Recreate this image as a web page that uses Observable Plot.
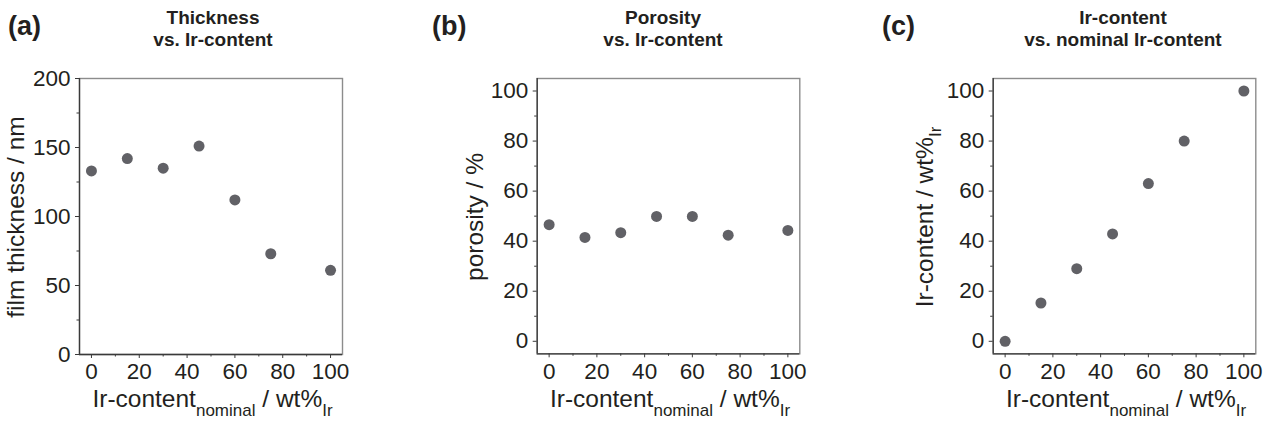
<!DOCTYPE html>
<html>
<head>
<meta charset="utf-8">
<script src="https://cdn.jsdelivr.net/npm/d3@7"></script>
<script src="https://cdn.jsdelivr.net/npm/@observablehq/plot@0.6"></script>
<style>
  html, body { margin: 0; padding: 0; background: #fff; }
  #chart { position: relative; width: 1270px; height: 428px; overflow: hidden; background: #fff; }
  #chart svg { position: absolute; top: 0; }
</style>
</head>
<body>
<div id="chart"></div>
<script>
// ---- data ----
const nominalContent = [0, 15, 30, 45, 60, 75, 100];
const filmThickness = [133, 142, 135, 151, 112, 73, 61];
const porosity = [46.6, 41.5, 43.4, 49.9, 49.9, 42.4, 44.3];
const irContent = [0, 15.3, 29, 42.9, 63, 80, 100];

// ---- tick labels ----
const xTicks = [0, 20, 40, 60, 80, 100];
const xMinorTicks = [10, 30, 50, 70, 90];
const thicknessTicks = [0, 50, 100, 150, 200];
const thicknessMinorTicks = [25, 75, 125, 175];
const percentTicks = [0, 20, 40, 60, 80, 100];
const percentMinorTicks = [10, 30, 50, 70, 90];

// ---- texts ----
const panelLetters = ["(a)", "(b)", "(c)"];
const titlesLine1 = ["Thickness", "Porosity", "Ir-content"];
const titlesLine2 = ["vs. Ir-content", "vs. Ir-content", "vs. nominal Ir-content"];
const yLabels = [
  [{t: "film thickness / nm"}],
  [{t: "porosity / %"}],
  [{t: "Ir-content / wt%"}, {t: "Ir", sub: true}]
];
const xLabel = [{t: "Ir-content"}, {t: "nominal", sub: true}, {t: " / wt%"}, {t: "Ir", sub: true}];

const FONT = "'Liberation Sans', Arial, Helvetica, sans-serif";
const TEXT = "#231f20";
const DOT = "#616166";
const FRAME = "#8c8c8c";
const AXIS = "#3a3a3a";

const panels = [
  {left: 0, width: 423, mL: 79, mR: 81, mT: 78, mB: 74,
   y: filmThickness, yDomain: [0, 200], yTicks: thicknessTicks, yMinor: thicknessMinorTicks,
   letterX: 8, titleX: 213, yLabelX: 24, yLabelY: 217},
  {left: 423, width: 423, mL: 113.7, mR: 46.7, mT: 78, mB: 74.7,
   y: porosity, yDomain: [-5, 105], yTicks: percentTicks, yMinor: percentMinorTicks,
   letterX: 9, titleX: 240, yLabelX: 60, yLabelY: 217},
  {left: 846, width: 424, mL: 146.7, mR: 14.7, mT: 78, mB: 74.7,
   y: irContent, yDomain: [-5, 105], yTicks: percentTicks, yMinor: percentMinorTicks,
   letterX: 36, titleX: 277, yLabelX: 87, yLabelY: 217}
];

function addRich(sel, parts, mainSize, subSize, shift) {
  let shifted = false;
  parts.forEach(p => {
    const ts = sel.append("tspan").text(p.t);
    if (p.sub) {
      ts.attr("font-size", subSize).attr("dy", shifted ? 0 : shift);
      shifted = true;
    } else {
      ts.attr("font-size", mainSize).attr("dy", shifted ? -shift : 0);
      shifted = false;
    }
  });
}

const xDomain = [-5, 105];
const chart = document.getElementById("chart");

panels.forEach((p, i) => {
  const data = nominalContent.map((x, k) => ({x, y: p.y[k]}));
  const svg = Plot.plot({
    width: p.width,
    height: 428,
    marginLeft: p.mL,
    marginRight: p.mR,
    marginTop: p.mT,
    marginBottom: p.mB,
    style: {fontSize: "22px", fontFamily: FONT, color: TEXT, background: "transparent", overflow: "visible"},
    x: {domain: xDomain, label: null},
    y: {domain: p.yDomain, label: null},
    marks: [
      Plot.frame({stroke: FRAME, strokeWidth: 1.4}),
      Plot.ruleX([xDomain[0]], {stroke: AXIS, strokeWidth: 1.3}),
      Plot.ruleY([p.yDomain[0]], {stroke: AXIS, strokeWidth: 1.3}),
      Plot.axisX(xTicks, {tickSize: 4, tickPadding: 5, label: null, stroke: AXIS, fill: TEXT, fontSize: 22.5, fontFamily: FONT}),
      Plot.axisX(xMinorTicks, {tickSize: 2.5, tickFormat: () => "", label: null, stroke: AXIS}),
      Plot.axisY(p.yTicks, {tickSize: 4, tickPadding: 5, label: null, stroke: AXIS, fill: TEXT, fontSize: 22.5, fontFamily: FONT}),
      Plot.axisY(p.yMinor, {tickSize: 2.5, tickFormat: () => "", label: null, stroke: AXIS}),
      Plot.dot(data, {x: "x", y: "y", r: 5.5, fill: DOT, stroke: "none"})
    ]
  });
  svg.style.left = p.left + "px";
  chart.appendChild(svg);

  const s = d3.select(svg);
  const g = s.append("g").attr("font-family", FONT).attr("fill", TEXT);
  g.append("text").attr("x", p.letterX).attr("y", 35).attr("text-anchor", "start")
    .attr("font-size", 27).attr("font-weight", "bold").text(panelLetters[i]);
  g.append("text").attr("x", p.titleX).attr("y", 24).attr("text-anchor", "middle")
    .attr("font-size", 19).attr("font-weight", "bold").text(titlesLine1[i]);
  g.append("text").attr("x", p.titleX).attr("y", 46).attr("text-anchor", "middle")
    .attr("font-size", 19).attr("font-weight", "bold").text(titlesLine2[i]);

  const frameCenter = p.mL + (p.width - p.mL - p.mR) / 2;
  const xl = g.append("text").attr("x", frameCenter + 2).attr("y", 407).attr("text-anchor", "middle");
  addRich(xl, xLabel, 24.5, 17, 9);

  const yl = g.append("text")
    .attr("transform", `translate(${p.yLabelX},${p.yLabelY}) rotate(-90)`)
    .attr("text-anchor", "middle");
  addRich(yl, yLabels[i], 24.5, 17, 8);
});
</script>
</body>
</html>
